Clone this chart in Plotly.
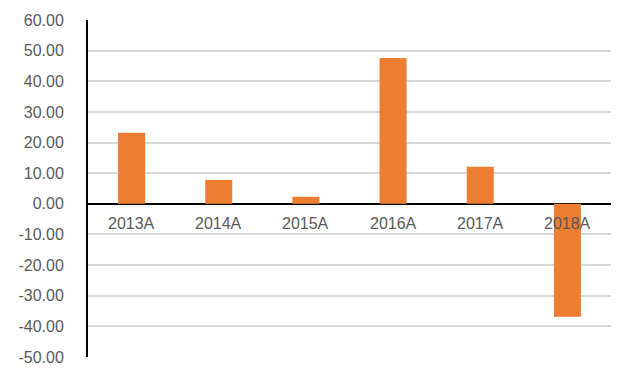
import plotly.graph_objects as go

categories = ["2013A", "2014A", "2015A", "2016A", "2017A", "2018A"]
values = [23.2, 7.8, 2.3, 47.6, 12.1, -36.9]
y_ticks = [60, 50, 40, 30, 20, 10, 0, -10, -20, -30, -40, -50]
y_tick_labels = [f"{v:.2f}" for v in y_ticks]

font_family = "Liberation Sans, DejaVu Sans, sans-serif"
text_color = "#595959"

fig = go.Figure(go.Bar(
    x=categories, y=values,
    marker=dict(color="#ED7D31", line=dict(width=0)),
    width=0.31,
))

for c in categories:
    fig.add_annotation(
        x=c, y=0, xref="x", yref="y", text=c, showarrow=False,
        yanchor="top", yshift=-9,
        font=dict(family=font_family, size=16, color=text_color),
    )

fig.update_layout(
    width=620, height=364,
    margin=dict(l=80, r=17, t=12, b=15, autoexpand=False),
    paper_bgcolor="white", plot_bgcolor="white",
    showlegend=False,
    xaxis=dict(showticklabels=False, showgrid=False, zeroline=False,
               showline=False, range=[-0.5, 5.5], automargin=False),
    yaxis=dict(range=[-50, 60], tickvals=y_ticks, ticktext=y_tick_labels,
               showgrid=True, gridcolor="#D9D9D9", gridwidth=1.5,
               zeroline=True, zerolinecolor="black", zerolinewidth=2,
               showline=True, linecolor="black", linewidth=2,
               ticks="", ticklabelstandoff=19, automargin=False,
               tickfont=dict(family=font_family, size=16, color=text_color)),
)

fig.write_html("out.html")
